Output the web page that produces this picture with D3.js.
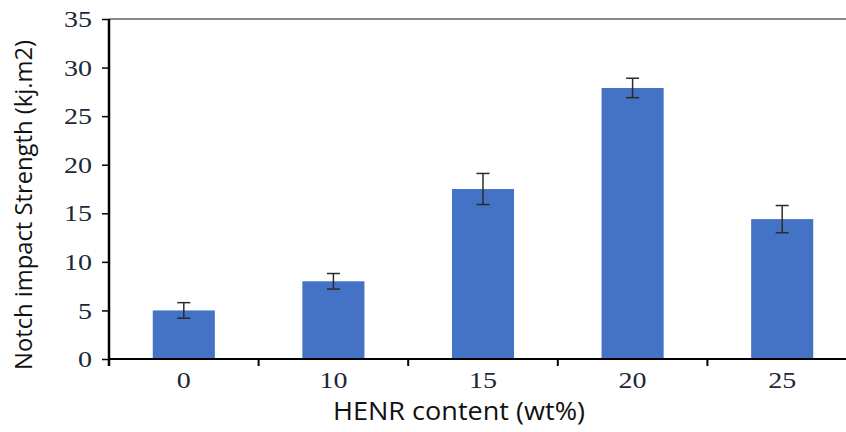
<!DOCTYPE html>
<html>
<head>
<meta charset="utf-8">
<script src="https://cdn.jsdelivr.net/npm/d3@7"></script>
<style>
  body { margin: 0; background: #fff; }
</style>
</head>
<body>
<svg id="chart"></svg>
<script>
// Chart data
const categories = ["0", "10", "15", "20", "25"];
const strength = [5.0, 8.0, 17.5, 27.9, 14.4];
const errors = [0.8, 0.8, 1.6, 1.0, 1.4];
const yTicks = [0, 5, 10, 15, 20, 25, 30, 35];

const width = 846, height = 432;
const margin = { top: 19, right: -11, bottom: 73, left: 109 };
const serif = "'Liberation Serif', 'Times New Roman', serif";
const sans = "'Open Sans', sans-serif";

const svg = d3.select("#chart")
              .attr("width", width)
              .attr("height", height);

const xScale = d3.scaleBand()
                 .domain(categories)
                 .range([margin.left, width - margin.right])
                 .paddingInner(0.585)
                 .paddingOuter(0.2925);

// band boundaries for tick marks
const xBand = d3.scaleBand()
                .domain(categories)
                .range([margin.left, width - margin.right]);

const yScale = d3.scaleLinear()
                 .domain([0, 35])
                 .range([height - margin.bottom, margin.top]);

// Top frame line
svg.append("line")
   .attr("x1", margin.left)
   .attr("x2", width)
   .attr("y1", yScale(35))
   .attr("y2", yScale(35))
   .attr("stroke", "#8a8a8a")
   .attr("stroke-width", 2);

// Bars
svg.selectAll(".bar")
   .data(categories)
   .enter()
   .append("rect")
   .attr("x", d => xScale(d))
   .attr("y", (d, i) => yScale(strength[i]))
   .attr("width", xScale.bandwidth())
   .attr("height", (d, i) => yScale(0) - yScale(strength[i]))
   .attr("fill", "#4472c4");

// Error bars
categories.forEach((c, i) => {
    const cx = xScale(c) + xScale.bandwidth() / 2;
    const top = yScale(strength[i] + errors[i]);
    const bot = yScale(strength[i] - errors[i]);
    const g = svg.append("g")
                 .attr("stroke", "#2b2b2b")
                 .attr("stroke-width", 1.5);
    g.append("line").attr("x1", cx).attr("x2", cx).attr("y1", top).attr("y2", bot);
    g.append("line").attr("x1", cx - 6.5).attr("x2", cx + 6.5).attr("y1", top).attr("y2", top);
    g.append("line").attr("x1", cx - 6.5).attr("x2", cx + 6.5).attr("y1", bot).attr("y2", bot);
});

// Y axis
const yAxis = svg.append("g")
   .attr("transform", `translate(${margin.left}, 0)`)
   .call(d3.axisLeft(yScale).tickValues(yTicks).tickSize(7).tickPadding(10));
yAxis.select(".domain").remove();
yAxis.selectAll("line").attr("stroke", "#000").attr("stroke-width", 1.5);
yAxis.selectAll("text")
     .style("font-family", serif)
     .style("font-size", "24px")
     .attr("fill", "#1c2838")
     .attr("textLength", d => String(d).length * 14)
     .attr("lengthAdjust", "spacingAndGlyphs");

svg.append("line")
   .attr("x1", margin.left)
   .attr("x2", margin.left)
   .attr("y1", yScale(35))
   .attr("y2", yScale(0) + 7)
   .attr("stroke", "#000")
   .attr("stroke-width", 2.5);

// X axis
svg.append("line")
   .attr("x1", margin.left)
   .attr("x2", width)
   .attr("y1", yScale(0))
   .attr("y2", yScale(0))
   .attr("stroke", "#000")
   .attr("stroke-width", 2);

svg.selectAll(".xtick")
   .data(categories.slice(1))
   .enter()
   .append("line")
   .attr("x1", d => xBand(d))
   .attr("x2", d => xBand(d))
   .attr("y1", yScale(0))
   .attr("y2", yScale(0) + 7)
   .attr("stroke", "#000")
   .attr("stroke-width", 2);

svg.selectAll(".xlabel")
   .data(categories)
   .enter()
   .append("text")
   .attr("x", d => xScale(d) + xScale.bandwidth() / 2)
   .attr("y", yScale(0) + 29)
   .attr("text-anchor", "middle")
   .style("font-family", serif)
   .style("font-size", "24px")
   .attr("fill", "#1c2838")
   .attr("textLength", d => d.length * 14)
   .attr("lengthAdjust", "spacingAndGlyphs")
   .text(d => d);

// Axis titles
svg.append("text")
   .attr("text-anchor", "middle")
   .attr("transform", `translate(32, 205) rotate(-90)`)
   .style("font-family", sans)
   .style("font-size", "23px")
   .attr("fill", "#111")
   .attr("textLength", 330)
   .attr("lengthAdjust", "spacingAndGlyphs")
   .text("Notch impact Strength (kj.m2)");

svg.append("text")
   .attr("text-anchor", "middle")
   .attr("x", 459)
   .attr("y", 420)
   .style("font-family", sans)
   .style("font-size", "25px")
   .attr("fill", "#111")
   .attr("textLength", 252)
   .attr("lengthAdjust", "spacingAndGlyphs")
   .text("HENR content (wt%)");
</script>
</body>
</html>
